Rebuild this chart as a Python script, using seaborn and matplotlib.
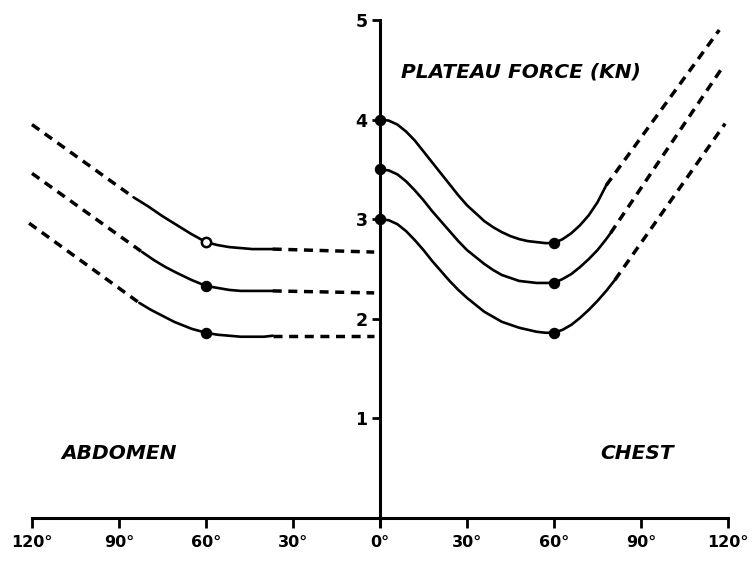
import numpy as np
import pandas as pd
import matplotlib
matplotlib.use("Agg")
import matplotlib.pyplot as plt
import seaborn as sns

# ---------------- data ----------------
# x in degrees: negative = abdomen side, positive = chest side
x_ticks = [-120, -90, -60, -30, 0, 30, 60, 90, 120]
x_tick_labels = ["120°", "90°", "60°", "30°", "0°", "30°", "60°", "90°", "120°"]
y_ticks = [1, 2, 3, 4, 5]
y_tick_labels = ["1", "2", "3", "4", "5"]

# Chest side (solid part), read every 3 degrees
chest_x = [0, 3, 6, 9, 12, 15, 18, 21, 24, 27, 30, 33, 36, 39, 42, 45, 48,
           51, 54, 57, 60, 63, 66, 69, 72, 75, 78]
chest_y_top = [4.00, 3.99, 3.95, 3.88, 3.79, 3.68, 3.57, 3.46, 3.35, 3.24,
               3.14, 3.06, 2.98, 2.92, 2.87, 2.83, 2.80, 2.78, 2.77, 2.76,
               2.76, 2.80, 2.86, 2.94, 3.04, 3.17, 3.34]
chest_y_mid = [3.50, 3.49, 3.45, 3.38, 3.29, 3.19, 3.08, 2.98, 2.88, 2.78,
               2.69, 2.62, 2.55, 2.49, 2.44, 2.41, 2.38, 2.37, 2.36, 2.36,
               2.36, 2.40, 2.45, 2.52, 2.60, 2.69, 2.80]
chest_y_low = [3.00, 2.99, 2.95, 2.88, 2.79, 2.69, 2.58, 2.48, 2.38, 2.29,
               2.21, 2.14, 2.07, 2.02, 1.97, 1.94, 1.91, 1.89, 1.87, 1.86,
               1.86, 1.89, 1.94, 2.01, 2.09, 2.18, 2.28]
# last solid points beyond 78 degrees
chest_tail_x_mid, chest_tail_y_mid = [79.5], [2.86]
chest_tail_x_low, chest_tail_y_low = [81], [2.39]

# Chest side (dashed extrapolation)
chest_dash_x_top = [78, 117]
chest_dash_y_top = [3.34, 4.90]
chest_dash_x_mid = [79.5, 118]
chest_dash_y_mid = [2.86, 4.52]
chest_dash_x_low = [81, 119]
chest_dash_y_low = [2.39, 3.96]

# Abdomen side (solid part)
abd_x_top = [-85, -80, -75, -70, -65, -60, -56, -52, -48, -44, -40, -37]
abd_y_top = [3.22, 3.13, 3.03, 2.94, 2.85, 2.77, 2.74, 2.72, 2.71, 2.70,
             2.70, 2.70]
abd_x_mid = [-82, -78, -74, -70, -65, -60, -56, -52, -48, -44, -40, -37]
abd_y_mid = [2.67, 2.59, 2.52, 2.46, 2.39, 2.33, 2.31, 2.29, 2.28, 2.28,
             2.28, 2.28]
abd_x_low = [-83, -79, -75, -71, -65, -60, -56, -52, -48, -44, -40, -37]
abd_y_low = [2.16, 2.09, 2.03, 1.97, 1.90, 1.86, 1.84, 1.83, 1.82, 1.82,
             1.82, 1.83]

# Abdomen side (dashed extrapolations)
abd_dash_left_x_top = [-120, -85]
abd_dash_left_y_top = [3.95, 3.22]
abd_dash_left_x_mid = [-120, -82]
abd_dash_left_y_mid = [3.46, 2.67]
abd_dash_left_x_low = [-121, -83]
abd_dash_left_y_low = [2.96, 2.16]

abd_dash_right_x = [-37, -2]
abd_dash_right_y_top = [2.70, 2.67]
abd_dash_right_y_mid = [2.28, 2.26]
abd_dash_right_y_low = [1.83, 1.83]

# Measured points (markers)
pts_filled_x = [0, 0, 0, 60, 60, 60, -60, -60]
pts_filled_y = [4.0, 3.5, 3.0, 2.76, 2.36, 1.86, 2.33, 1.86]
pts_open_x = [-60]
pts_open_y = [2.77]

# ---------------- figure ----------------
sns.set_theme(style="white")
plt.rcParams["font.family"] = ["DejaVu Sans"]

fig = plt.figure(figsize=(7.54, 5.69), dpi=100)
W, H = 754, 569
x_left_px, x_right_px = 32, 728
y_bot_px, y_top_px = 518, 20
ax = fig.add_axes([x_left_px / W, (H - y_bot_px) / H,
                   (x_right_px - x_left_px) / W, (y_bot_px - y_top_px) / H])
ax.set_xlim(-120, 120)
ax.set_ylim(0, 5)
ax.patch.set_alpha(0)

LW = 1.9
DASH = (2.6, 1.9)

def solid(xs, ys):
    sns.lineplot(x=xs, y=ys, ax=ax, color="black", lw=LW, sort=False,
                 estimator=None, clip_on=False)
    ax.lines[-1].set_solid_joinstyle("round")

def dashed(xs, ys):
    sns.lineplot(x=xs, y=ys, ax=ax, color="black", lw=LW + 0.6, sort=False,
                 estimator=None, clip_on=False)
    ax.lines[-1].set_dashes(DASH)

for xs, ys in [(chest_x, chest_y_top),
               (chest_x + chest_tail_x_mid, chest_y_mid + chest_tail_y_mid),
               (chest_x + chest_tail_x_low, chest_y_low + chest_tail_y_low),
               (abd_x_top, abd_y_top), (abd_x_mid, abd_y_mid),
               (abd_x_low, abd_y_low)]:
    solid(xs, ys)

for xs, ys in [(chest_dash_x_top, chest_dash_y_top),
               (chest_dash_x_mid, chest_dash_y_mid),
               (chest_dash_x_low, chest_dash_y_low),
               (abd_dash_left_x_top, abd_dash_left_y_top),
               (abd_dash_left_x_mid, abd_dash_left_y_mid),
               (abd_dash_left_x_low, abd_dash_left_y_low),
               (abd_dash_right_x, abd_dash_right_y_top),
               (abd_dash_right_x, abd_dash_right_y_mid),
               (abd_dash_right_x, abd_dash_right_y_low)]:
    dashed(xs, ys)

sns.scatterplot(x=pts_filled_x, y=pts_filled_y, ax=ax, color="black", s=55,
                edgecolor="black", linewidth=0.8, zorder=5, clip_on=False)
sns.scatterplot(x=pts_open_x, y=pts_open_y, ax=ax, color="white", s=45,
                edgecolor="black", linewidth=1.8, zorder=5, clip_on=False)

# ---------------- axes ----------------
for s in ["top", "right"]:
    ax.spines[s].set_visible(False)
ax.spines["left"].set_position(("data", 0))
ax.spines["bottom"].set_position(("data", 0))
ax.spines["left"].set_bounds(-0.08, 5)
ax.spines["bottom"].set_bounds(-120, 120)
for s in ["left", "bottom"]:
    ax.spines[s].set_linewidth(2.2)
    ax.spines[s].set_color("black")

ax.set_xticks(x_ticks)
ax.set_xticklabels(x_tick_labels, fontsize=11.5, fontweight="bold")
ax.set_yticks(y_ticks)
ax.set_yticklabels(y_tick_labels, fontsize=12.5, fontweight="bold")
ax.tick_params(axis="x", bottom=True, direction="out", length=7, width=2.0,
               pad=5, color="black", labelcolor="black")
ax.tick_params(axis="y", left=True, direction="out", length=6, width=2.0,
               pad=3, color="black", labelcolor="black")
ax.set_xlabel("")
ax.set_ylabel("")
ax.grid(False)

# ---------------- annotations ----------------
ax.text(7.2, 4.48, "PLATEAU FORCE (KN)", fontsize=14.5, fontweight="bold",
        fontstyle="italic", ha="left", va="center", color="black")
ax.text(-110, 0.65, "ABDOMEN", fontsize=14.5, fontweight="bold",
        fontstyle="italic", ha="left", va="center", color="black")
ax.text(76, 0.65, "CHEST", fontsize=14.5, fontweight="bold",
        fontstyle="italic", ha="left", va="center", color="black")

fig.savefig("out.png", dpi=100)
